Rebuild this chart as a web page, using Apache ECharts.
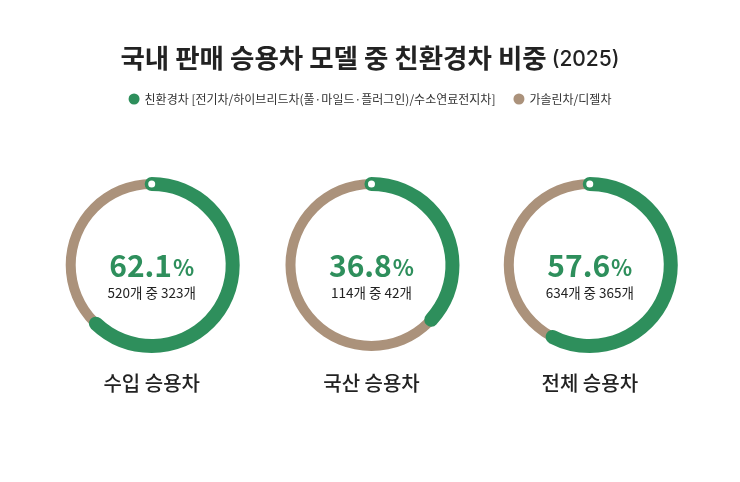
<!DOCTYPE html>
<html>
<head>
<meta charset="utf-8">
<script src="https://cdn.jsdelivr.net/npm/echarts@6/dist/echarts.min.js"></script>
<style>
html, body { margin: 0; padding: 0; background: #fff; }
#main { width: 740px; height: 482px; }
</style>
</head>
<body>
<div id="main"></div>
<script>
// 데이터
var categories = ['수입 승용차', '국산 승용차', '전체 승용차'];
var ecoShare = [62.1, 36.8, 57.6];     // 친환경차 비중 (%)
var totalModels = [520, 114, 634];     // 전체 모델 수
var ecoModels = [323, 42, 365];        // 친환경차 모델 수
var seriesNames = ['친환경차 [전기차/하이브리드차(풀·마일드·플러그인)/수소연료전지차]', '가솔린차/디젤차'];

var GREEN = '#2e8f5c';
var BEIGE = '#ab927b';
var FONT = '"Noto Sans CJK KR", "Noto Sans", sans-serif';

var centers = [['20.5%', 265], ['50.2%', 265], ['79.7%', 265]];

var series = [];
categories.forEach(function (cat, i) {
    // 배경 링 (가솔린/디젤)
    series.push({
        name: seriesNames[1],
        type: 'gauge',
        center: centers[i],
        radius: 86,
        startAngle: 90,
        endAngle: -270,
        min: 0,
        max: 100,
        z: 1,
        silent: true,
        axisLine: { lineStyle: { width: 10, color: [[1, BEIGE]] } },
        splitLine: { show: false },
        axisTick: { show: false },
        axisLabel: { show: false },
        pointer: { show: false },
        title: { show: false },
        detail: { show: false },
        data: [{ value: 100 - ecoShare[i] }]
    });
    // 친환경차 진행 링
    series.push({
        name: seriesNames[0],
        type: 'gauge',
        center: centers[i],
        radius: 88,
        startAngle: 90,
        endAngle: -270,
        min: 0,
        max: 100,
        z: 2,
        silent: true,
        progress: { show: true, width: 14, roundCap: true, itemStyle: { color: GREEN } },
        axisLine: { show: false },
        splitLine: { show: false },
        axisTick: { show: false },
        axisLabel: { show: false },
        pointer: { show: false },
        anchor: { show: false },
        title: {
            offsetCenter: [0, 118],
            fontFamily: FONT,
            fontSize: 20,
            fontWeight: 500,
            color: '#222'
        },
        detail: {
            offsetCenter: [0, 11],
            formatter: function (v) {
                return '{v|' + v.toFixed(1) + '}{p|%}\n{s|' + totalModels[i] + '개 중 ' + ecoModels[i] + '개}';
            },
            rich: {
                v: { fontFamily: FONT, fontSize: 30, fontWeight: 'bold', color: GREEN, lineHeight: 34 },
                p: { fontFamily: FONT, fontSize: 22, fontWeight: 'bold', color: GREEN, lineHeight: 34, padding: [4, 0, 0, 1] },
                s: { fontFamily: FONT, fontSize: 13.5, fontWeight: 'normal', color: '#222', lineHeight: 20 }
            }
        },
        data: [{ value: ecoShare[i], name: cat }]
    });
    // 시작점 표시 (값 0 위치)
    series.push({
        name: seriesNames[0],
        type: 'gauge',
        center: centers[i],
        radius: 88,
        startAngle: 90,
        endAngle: -270,
        min: 0,
        max: 100,
        z: 3,
        silent: true,
        axisLine: { show: false },
        splitLine: { show: false },
        axisTick: { show: false },
        axisLabel: { show: false },
        anchor: { show: false },
        pointer: {
            show: true,
            icon: 'circle',
            width: 7,
            length: 7,
            offsetCenter: [0, -77.5],
            itemStyle: { color: '#fff' }
        },
        title: { show: false },
        detail: { show: false },
        data: [{ value: 0 }]
    });
});

var myChart = echarts.init(document.getElementById('main'));
myChart.setOption({
    backgroundColor: '#fff',
    animation: false,
    title: {
        text: '{a|국내 판매 승용차 모델 중 친환경차 비중} {b|(2025)}',
        left: 'center',
        top: 40,
        textStyle: {
            rich: {
                a: { fontFamily: FONT, fontSize: 26.5, fontWeight: 'bold', color: '#222' },
                b: { fontFamily: 'Inter, Roboto, sans-serif', fontSize: 21, fontWeight: 500, color: '#222', padding: [3, 0, 0, 0] }
            }
        }
    },
    legend: {
        top: 88,
        left: 'center',
        icon: 'circle',
        itemWidth: 11,
        itemHeight: 11,
        itemGap: 18,
        selectedMode: false,
        textStyle: { fontFamily: FONT, fontSize: 12, color: '#333' },
        data: [
            { name: seriesNames[0], itemStyle: { color: GREEN } },
            { name: seriesNames[1], itemStyle: { color: BEIGE } }
        ]
    },
    series: series
});
</script>
</body>
</html>
